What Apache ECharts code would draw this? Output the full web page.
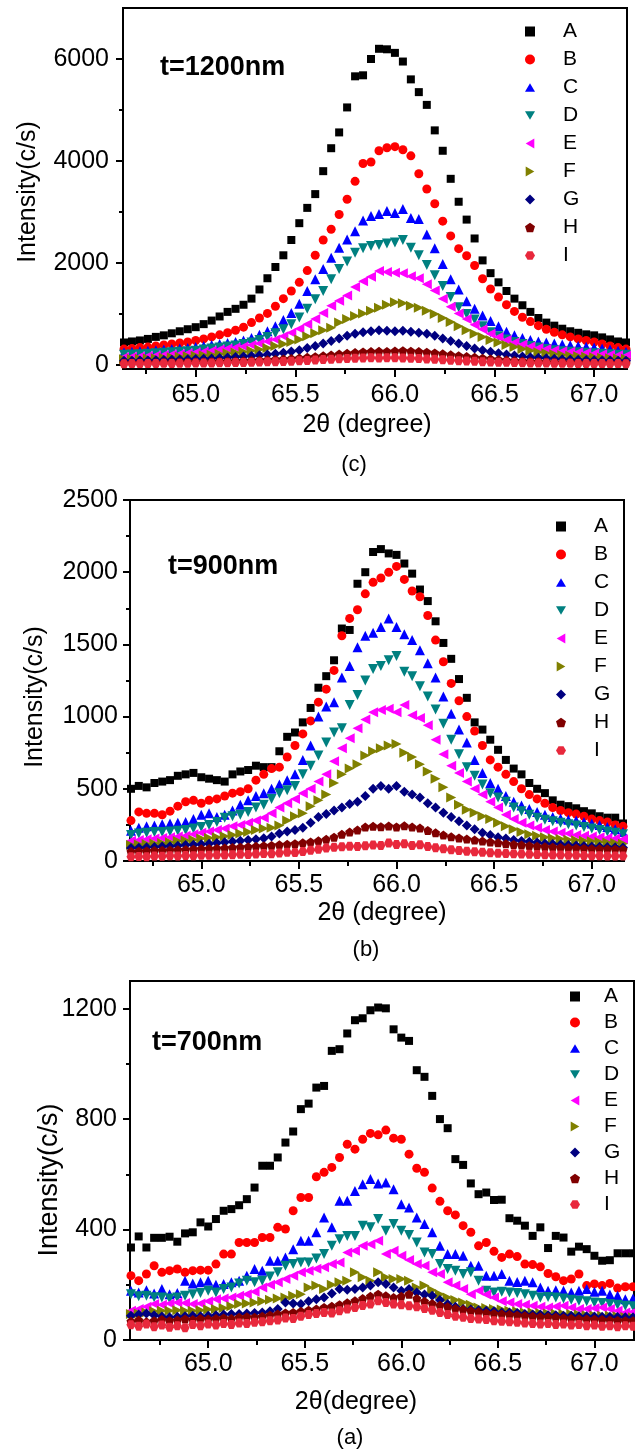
<!DOCTYPE html>
<html><head><meta charset="utf-8">
<script src="https://cdn.jsdelivr.net/npm/echarts@6/dist/echarts.min.js"></script>
<style>html,body{margin:0;padding:0;background:#fff}#c{width:635px;height:1451px}</style>
</head><body><div id="c"></div>
<script>
// ---------- data ----------
const letters = ['A','B','C','D','E','F','G','H','I'];
const xTickLabels = [65.0, 65.5, 66.0, 66.5, 67.0];

// shared 2θ grid for panels (c) and (b)
const xCB = [64.64,64.68,64.72,64.76,64.80,64.84,64.88,64.92,64.96,65.00,
65.04,65.08,65.12,65.16,65.20,65.24,65.28,65.32,65.36,65.40,
65.44,65.48,65.52,65.56,65.60,65.64,65.68,65.72,65.76,65.80,
65.84,65.88,65.92,65.96,66.00,66.04,66.08,66.12,66.16,66.20,
66.24,66.28,66.32,66.36,66.40,66.44,66.48,66.52,66.56,66.60,
66.64,66.68,66.72,66.76,66.80,66.84,66.88,66.92,66.96,67.00,
67.04,67.08,67.12,67.16];

// panel (c) t=1200nm
const cA = [440,460,480,510,550,580,620,660,700,740,
800,870,950,1040,1100,1180,1300,1480,1700,1920,
2150,2450,2780,3080,3350,3800,4250,4560,5050,5660,
5680,6000,6200,6190,6120,5950,5600,5350,5100,4600,
4200,3650,3200,2850,2480,2050,1800,1620,1450,1300,
1170,1040,920,830,770,710,660,630,600,580,
540,500,460,440];
const cB = [310,320,340,350,370,390,410,430,450,480,
510,550,590,630,680,740,830,920,1010,1150,
1300,1450,1620,1850,2150,2450,2660,2950,3250,3600,
3950,3980,4200,4260,4280,4220,4100,3750,3450,3160,
2820,2530,2280,2140,1950,1690,1490,1330,1180,1050,
935,850,770,700,640,590,550,510,480,450,
410,370,340,310];
const cC = [250,260,270,280,290,300,310,320,330,350,
370,390,410,430,450,480,530,590,660,760,
880,1020,1200,1450,1680,1880,2100,2300,2460,2620,
2830,2920,2960,3020,2980,3060,2880,2860,2560,2290,
1980,1680,1480,1250,1100,970,860,760,650,580,
530,490,460,440,420,400,385,370,355,340,
320,300,280,260];
const cD = [200,205,210,220,230,240,250,260,270,280,
300,320,340,360,380,410,440,490,550,620,
700,800,930,1100,1290,1450,1680,1880,2030,2200,
2290,2330,2350,2380,2400,2450,2300,2150,1960,1760,
1550,1330,1130,1000,890,760,640,560,500,450,
410,370,340,310,290,270,260,250,240,230,
220,210,200,200];
const cE = [150,160,165,175,185,195,205,215,230,245,
260,280,300,320,340,360,390,420,460,500,
560,630,710,800,900,1020,1160,1260,1360,1530,
1640,1730,1840,1820,1810,1800,1740,1700,1580,1460,
1300,1140,1010,900,790,700,610,550,490,440,
400,360,330,310,290,270,260,250,240,225,
210,200,190,180];
const cF = [110,115,120,125,130,140,150,160,170,180,
190,200,215,230,245,260,280,300,330,370,
410,450,500,560,620,680,730,830,900,960,
1010,1060,1120,1180,1230,1210,1160,1120,1060,1000,
920,840,760,680,610,550,490,440,390,350,
310,280,250,230,210,195,180,170,160,150,
140,130,125,120];
const cG = [80,82,85,88,90,95,100,105,110,115,
120,128,135,145,155,165,175,190,205,220,
240,265,290,330,370,420,470,520,570,610,
640,660,680,670,660,670,650,630,610,570,
520,470,420,370,320,290,260,230,205,185,
165,150,140,130,120,112,105,100,95,92,
88,85,82,80];
const cH = [40,42,44,45,47,50,52,55,58,60,
63,66,70,74,78,83,88,94,100,108,
116,125,135,148,162,178,195,212,228,242,
255,262,268,265,272,280,270,262,250,235,
218,200,182,165,148,132,118,105,95,86,
78,72,66,61,57,53,50,48,46,44,
43,42,41,40];
const cI = [25,28,26,30,28,32,30,34,33,36,
38,40,42,44,46,48,52,56,60,64,
68,74,80,88,96,104,112,120,126,132,
136,140,138,142,140,136,132,126,118,110,
100,92,84,76,70,64,58,54,50,46,
43,40,38,36,34,32,31,30,29,28,
27,26,26,25];

// panel (b) t=900nm
const bA = [500,520,510,540,550,560,590,600,610,580,
570,560,550,600,620,630,660,650,650,760,
860,890,960,1060,1200,1280,1390,1610,1600,1920,
2000,2140,2160,2130,2120,2060,1990,1880,1800,1660,
1510,1400,1260,1130,960,910,840,770,700,640,
600,540,500,470,420,390,380,365,345,330,
310,300,300,260];
const bB = [280,340,330,330,320,345,380,410,420,400,
420,430,450,470,480,500,560,600,640,650,
720,800,880,970,1100,1190,1320,1560,1680,1740,
1850,1930,1960,2000,2040,1950,1870,1830,1700,1530,
1380,1230,1110,1000,900,800,700,650,600,550,
500,460,430,400,370,350,335,325,310,290,
280,270,250,240];
const bC = [210,230,240,245,255,260,265,270,290,320,
330,305,320,350,390,420,450,470,500,530,
560,600,700,800,1000,1070,1100,1270,1350,1480,
1560,1580,1620,1680,1620,1570,1530,1460,1370,1270,
1140,1020,910,820,700,610,540,500,450,410,
385,360,340,320,305,295,285,280,270,260,
250,235,220,200];
const bD = [180,190,195,200,200,205,210,215,225,235,
250,270,300,310,320,340,370,390,430,470,
490,520,600,660,730,820,890,920,1080,1150,
1250,1330,1350,1390,1420,1310,1280,1210,1140,1050,
950,840,740,650,590,530,470,440,410,370,
345,320,300,285,275,265,255,245,235,225,
215,205,195,185];
const bE = [140,145,150,155,160,165,170,175,185,195,
205,215,225,240,250,265,280,300,330,370,
400,430,470,500,550,600,690,780,850,920,
980,1030,1045,1055,1030,1080,1010,990,940,840,
740,660,610,550,500,460,410,370,320,290,
265,245,230,215,205,195,190,180,175,170,
165,160,155,150];
const bF = [110,115,118,122,125,130,138,142,148,155,
160,165,172,180,190,200,215,225,230,245,
280,310,330,380,420,460,540,600,640,670,
730,760,780,800,810,750,720,670,620,570,
510,440,390,355,335,310,290,265,240,220,
200,185,175,165,158,152,148,144,140,136,
132,128,125,120];
const bG = [90,92,95,97,100,103,106,110,113,116,
120,125,130,135,140,145,150,158,170,190,
205,215,230,265,305,325,350,370,395,410,
450,500,520,500,520,480,460,440,400,370,
335,305,275,245,220,195,180,165,155,145,
138,133,128,122,118,114,110,107,104,101,
99,97,95,93];
const bH = [65,68,70,72,74,76,78,80,82,84,
86,88,90,93,96,99,102,105,108,112,
116,120,126,132,140,150,165,185,200,215,
235,240,238,242,236,244,235,228,212,195,
180,168,160,152,145,138,132,126,120,115,
110,106,102,99,96,93,91,89,87,85,
84,83,82,80];
const bI = [30,32,30,34,33,36,35,38,37,40,
39,42,41,44,46,45,48,52,50,55,
60,58,66,75,82,90,95,98,102,100,
106,110,108,125,115,120,108,112,100,92,
85,78,72,68,64,60,57,54,52,50,
48,46,45,44,42,41,40,39,38,37,
36,35,35,34];

// panel (a) t=700nm
const xA = [64.60,64.64,64.68,64.72,64.76,64.80,64.84,64.88,64.92,64.96,
65.00,65.04,65.08,65.12,65.16,65.20,65.24,65.28,65.32,65.36,
65.40,65.44,65.48,65.52,65.56,65.60,65.64,65.68,65.72,65.76,
65.80,65.84,65.88,65.92,65.96,66.00,66.04,66.08,66.12,66.16,
66.20,66.24,66.28,66.32,66.36,66.40,66.44,66.48,66.52,66.56,
66.60,66.64,66.68,66.72,66.76,66.80,66.84,66.88,66.92,66.96,
67.00,67.04,67.08,67.12,67.16,67.20];
const aA = [335,375,335,370,370,374,356,386,390,426,
411,438,468,474,488,510,552,631,631,661,
715,755,836,856,914,920,1047,1053,1110,1158,
1165,1194,1204,1201,1125,1095,1083,977,953,884,
800,767,655,634,567,528,534,507,508,441,
432,414,377,408,333,377,371,320,338,329,
305,287,289,314,314,314];
const aB = [233,215,239,269,245,251,257,245,251,253,
253,275,311,311,353,353,353,371,371,408,
402,468,516,516,591,607,625,661,709,691,
727,748,743,760,731,727,673,622,607,550,
502,468,453,414,390,341,353,321,299,311,
302,275,273,265,241,229,215,221,239,197,
203,197,205,188,193,193];
const aC = [178,172,180,168,185,166,170,215,205,209,
215,200,203,209,215,233,257,251,287,287,
299,329,359,359,390,444,408,504,504,540,
564,583,567,570,546,492,480,444,420,390,
341,311,311,305,269,269,233,233,239,215,
210,215,209,190,178,180,178,172,178,185,
175,178,165,160,148,150];
const aD = [166,158,160,155,154,150,154,160,166,170,
178,172,185,190,205,215,209,215,230,245,
269,275,281,281,295,311,341,365,377,377,
414,408,438,396,420,396,380,353,317,311,
275,257,251,239,245,215,178,172,175,172,
170,166,160,154,156,154,150,146,142,140,
136,134,130,128,124,122];
const aE = [106,112,120,130,128,132,136,134,130,132,
140,148,150,154,160,166,175,190,200,209,
221,233,245,251,258,263,275,281,317,323,
341,347,359,311,323,305,290,275,269,245,
239,209,197,185,166,178,165,154,140,136,
130,128,124,120,118,121,124,118,112,112,
115,118,112,106,100,102];
const aF = [94,96,100,104,106,106,108,106,106,108,
110,112,116,122,130,132,136,140,146,150,
154,160,166,190,197,185,200,209,215,245,
227,215,245,227,221,221,215,190,197,180,
166,154,145,136,128,118,116,112,110,106,
104,100,100,98,96,95,94,94,92,90,
89,88,88,86,83,82];
const aG = [88,92,96,90,85,82,84,86,88,86,
88,90,92,94,94,96,98,100,104,112,
136,132,130,140,148,154,168,185,182,185,
190,197,209,203,190,178,185,172,165,160,
145,130,120,112,110,108,106,104,100,100,
98,94,92,92,90,90,88,88,86,86,
85,84,84,83,82,82];
const aH = [68,72,66,70,74,70,72,76,74,78,
76,78,80,78,82,84,82,86,90,94,
98,100,104,108,112,118,122,128,135,142,
150,158,166,160,154,158,166,150,140,132,
126,120,114,110,106,102,98,96,94,92,
90,88,86,84,83,82,80,78,77,76,
75,74,72,71,70,70];
const aI = [55,50,58,48,54,46,52,44,56,52,
58,54,60,56,62,60,64,66,70,72,
80,78,86,92,96,100,98,106,112,118,
125,130,142,136,130,128,124,120,114,108,
100,92,86,82,78,76,74,70,68,66,
64,62,60,58,60,56,58,54,56,52,
54,50,52,48,52,50];

const yTicksC = [0, 2000, 4000, 6000];
const yTicksB = [0, 500, 1000, 1500, 2000, 2500];
const yTicksA = [0, 400, 800, 1200];

// ---------- style ----------
const FONT = '"Liberation Sans", Arial, sans-serif';
const colors = ['#000000','#ff0000','#0000ff','#008080','#ff00ff','#808000','#000080','#800000','#e8283c'];
const TRI_UP = 'path://M50,0 L100,86.6 L0,86.6 Z';
const TRI_DOWN = 'path://M0,0 L100,0 L50,86.6 Z';
const TRI_LEFT = 'path://M0,50 L86.6,0 L86.6,100 Z';
const TRI_RIGHT = 'path://M0,0 L86.6,50 L0,100 Z';
const PENT = 'path://M50,0 L97.6,34.5 L79.4,90.5 L20.6,90.5 L2.4,34.5 Z';
const HEX = 'path://M25,0 L75,0 L100,43.3 L75,86.6 L25,86.6 L0,43.3 Z';
const symbols = ['rect','circle',TRI_UP,TRI_DOWN,TRI_LEFT,TRI_RIGHT,'diamond',PENT,HEX];
const sizes = [8,9,10,10,10,10,10,9,9];

const panels = [
  {x:xCB, ys:[cA,cB,cC,cD,cE,cF,cG,cH,cI],
   grid:{left:123, top:8, width:504, height:361},
   xmin:64.635, xmax:67.165, ymin:-80, ymax:7000, yMajor:yTicksC, yMinor:[1000,3000,5000],
   xMargin:14, yMargin:14},
  {x:xCB, ys:[bA,bB,bC,bD,bE,bF,bG,bH,bI],
   grid:{left:130, top:500, width:494, height:361},
   xmin:64.635, xmax:67.165, ymin:0, ymax:2500, yMajor:yTicksB, yMinor:[250,750,1250,1750,2250],
   xMargin:12, yMargin:12},
  {x:xA, ys:[aA,aB,aC,aD,aE,aF,aG,aH,aI],
   grid:{left:130, top:981, width:504, height:359},
   xmin:64.595, xmax:67.205, ymin:0, ymax:1300, yMajor:yTicksA, yMinor:[200,600,1000],
   xMargin:12, yMargin:13}
];
const xMinor = [64.75,65.25,65.75,66.25,66.75];

const grids=[], xAxes=[], yAxes=[], series=[];
panels.forEach((p, pi) => {
  grids.push(Object.assign({show:true, borderColor:'#000', borderWidth:2, backgroundColor:'transparent'}, p.grid));
  const lbl = {fontSize:25, color:'#000', fontFamily:FONT};
  xAxes.push({type:'value', gridIndex:pi, min:p.xmin, max:p.xmax, position:'bottom',
    axisLine:{show:true, onZero:false, lineStyle:{color:'#000', width:2}},
    axisTick:{show:true, length:8, customValues:xTickLabels, lineStyle:{color:'#000', width:2}},
    axisLabel:Object.assign({show:true, margin:p.xMargin, customValues:xTickLabels, formatter:v=>Number(v).toFixed(1)}, lbl),
    splitLine:{show:false}});
  xAxes.push({type:'value', gridIndex:pi, min:p.xmin, max:p.xmax, position:'bottom',
    axisLine:{show:false, onZero:false},
    axisTick:{show:true, length:5, customValues:xMinor, lineStyle:{color:'#000', width:2}},
    axisLabel:{show:false}, splitLine:{show:false}});
  yAxes.push({type:'value', gridIndex:pi, min:p.ymin, max:p.ymax, position:'left',
    axisLine:{show:true, onZero:false, lineStyle:{color:'#000', width:2}},
    axisTick:{show:true, length:7, customValues:p.yMajor, lineStyle:{color:'#000', width:2}},
    axisLabel:Object.assign({show:true, margin:p.yMargin, customValues:p.yMajor, formatter:v=>String(Math.round(v))}, lbl),
    splitLine:{show:false}});
  yAxes.push({type:'value', gridIndex:pi, min:p.ymin, max:p.ymax, position:'left',
    axisLine:{show:false, onZero:false},
    axisTick:{show:true, length:4, customValues:p.yMinor, lineStyle:{color:'#000', width:2}},
    axisLabel:{show:false}, splitLine:{show:false}});
  p.ys.forEach((arr, si) => {
    series.push({type:'scatter', name:letters[si], xAxisIndex:pi*2, yAxisIndex:pi*2,
      data:p.x.map((xv,k)=>[xv, arr[k]]),
      symbol:symbols[si], symbolSize:sizes[si],
      itemStyle:{color:colors[si], opacity:1}, z:2+si, emphasis:{disabled:true}});
  });
});

function legend(left, top, gap, pad){
  return {type:'plain', orient:'vertical', left:left, top:top, width:100, height:300, padding:0,
    itemWidth:10, itemHeight:10, itemGap:gap,
    selectedMode:false,
    data:letters.map((n,i)=>({name:n, icon:symbols[i], itemStyle:{color:colors[i]}})),
    textStyle:{fontSize:21, fontFamily:FONT, color:'#000', padding:[0,0,0,pad]}};
}

function txt(x, y, text, font, rot){
  const o = {type:'text', x:x, y:y, style:{text:text, font:font, fill:'#000', align:'center', verticalAlign:'middle'}};
  if (rot) o.rotation = rot;
  return o;
}
function ltxt(x, y, text, font){
  return {type:'text', x:x, y:y, style:{text:text, font:font, fill:'#000', align:'left', verticalAlign:'middle'}};
}

const chart = echarts.init(document.getElementById('c'), null, {renderer:'canvas'});
chart.setOption({
  animation:false,
  backgroundColor:'#fff',
  grid:grids, xAxis:xAxes, yAxis:yAxes, series:series,
  legend:[legend(525, 21, 7, 23), legend(556, 516, 7, 23), legend(570, 986, 5, 19)],
  graphic:[
    ltxt(160, 68, 't=1200nm', 'bold 27px ' + FONT),
    ltxt(168, 567, 't=900nm', 'bold 27px ' + FONT),
    ltxt(152, 1043, 't=700nm', 'bold 27px ' + FONT),
    txt(28, 192, 'Intensity(c/s)', '25px ' + FONT, Math.PI/2),
    txt(35, 697, 'Intensity(c/s)', '25px ' + FONT, Math.PI/2),
    txt(50, 1180, 'Intensity(c/s)', '27px ' + FONT, Math.PI/2),
    txt(367, 425, '2θ (degree)', '25px ' + FONT),
    txt(382, 913, '2θ (degree)', '25px ' + FONT),
    txt(356, 1402, '2θ(degree)', '25px ' + FONT),
    txt(354, 465, '(c)', '22px ' + FONT),
    txt(366, 950, '(b)', '22px ' + FONT),
    txt(350, 1438, '(a)', '22px ' + FONT)
  ]
});
</script></body></html>
